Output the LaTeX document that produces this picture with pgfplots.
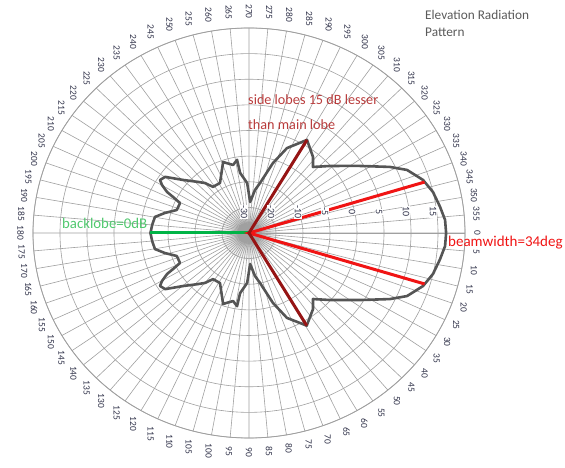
\documentclass[border=0pt]{standalone}
\usepackage{pgfplots}
\pgfplotsset{compat=1.18}
\usepgfplotslibrary{polar}
\usepackage{fontspec}
\setmainfont{Carlito}
\definecolor{gridc}{RGB}{160,160,160}
\definecolor{curvec}{RGB}{85,85,85}
\definecolor{labc}{RGB}{50,52,75}
\definecolor{redl}{RGB}{240,20,20}
\definecolor{darkred}{RGB}{150,20,20}
\definecolor{greenl}{RGB}{0,180,70}
\definecolor{greent}{RGB}{80,200,110}
\definecolor{annot}{RGB}{185,60,60}
\definecolor{titlec}{RGB}{90,90,90}
\begin{document}
\begin{tikzpicture}
\useasboundingbox (0,0) rectangle (565pt,468pt);
% center shading
\shade[inner color=gray!55, outer color=white] (249pt,235pt) ellipse (30pt and 28pt);
\begin{polaraxis}[
  at={(249pt,235pt)}, anchor=center,
  scale only axis, width=432pt, height=410pt, scale mode=stretch to fill,
  xmin=0, xmax=360, ymin=0, ymax=8,
  xtick={0,5,...,355}, ytick={1,...,8},
  xticklabels={}, yticklabels={},
  grid=major,
  major grid style={draw=gridc, line width=0.6pt},
  axis line style={draw=gridc, line width=0.8pt},
  major tick length=0pt,
]
\addplot[draw=curvec, line width=2.6pt, line join=round] coordinates {
(0,7.30) (4,7.28) (8.2,7.15) (13.2,7.0) (17.8,6.77) (22.8,6.35) (26.3,5.82)
(32.5,4.87) (41.1,3.98) (47.4,3.50) (51.4,3.80) (59.4,4.22) (67,3.60) (72,2.87)
(78.2,1.99) (82.5,1.69) (88,1.21) (92,1.95) (98,2.37) (98.8,2.89) (102.5,2.72)
(109.1,2.93) (118.8,2.23) (126.5,2.24) (129.9,2.54) (133.5,2.75) (139.7,3.20)
(144.8,3.80) (147.9,3.89) (149.8,3.73) (152.2,3.43) (153.4,3.15) (155.4,2.81)
(161.4,2.82) (165.9,3.21) (169.8,3.54) (175,3.6) (180,3.65)
(185,3.6) (190.2,3.54) (194.1,3.21) (198.6,2.82) (204.6,2.81) (206.6,3.15)
(207.8,3.43) (210.2,3.73) (212.1,3.89) (215.2,3.80) (220.3,3.20) (226.5,2.75)
(230.1,2.54) (233.5,2.24) (241.2,2.23) (250.9,2.93) (257.5,2.72) (261.2,2.89)
(262,2.37) (268,1.95) (272,1.21) (277.5,1.69) (281.8,1.99) (288,2.87) (293,3.60)
(300.6,4.20) (308.6,3.80) (312.6,3.50) (318.9,3.98) (327.5,4.87) (333.7,5.82)
(337.2,6.35) (342.2,6.77) (346.8,7.0) (351.8,7.15) (356,7.28) (360,7.30)
};
\addplot[draw=greenl, line width=3pt] coordinates {(0,0) (180,3.65)};
\addplot[draw=redl, line width=3pt] coordinates {(17,6.8) (0,0) (343,6.8)};
\addplot[draw=darkred, line width=3pt] coordinates {(59.4,4.22) (0,0) (300.6,4.20)};
\end{polaraxis}
% angle labels
\foreach \a in {0,5,...,355}{
  \pgfmathtruncatemacro\lab{mod(360-\a,360)}
  \pgfmathtruncatemacro\anc{mod(\a+270,360)}
  \pgfmathsetmacro\px{249+225*cos(\a)}
  \pgfmathsetmacro\py{235+214*sin(\a)}
  \node[rotate=-90, anchor=\anc, inner sep=0pt, font=\fontsize{9.5}{10}\selectfont, text=labc]
    at (\px pt, \py pt) {\lab};
}
% radial labels
\foreach \k/\v in {0/-30,1/-20,2/-10,3/-5,4/0,5/5,6/10,7/15}{
  \pgfmathsetmacro\px{244+27*\k}
  \node[rotate=-90, inner sep=0.6pt, fill=white, font=\fontsize{10}{11}\selectfont, text=labc]
    at (\px pt, 256pt) {\v};
}
% annotations
\node[anchor=west, inner sep=0pt, text=titlec, font=\fontsize{13.3}{14}\selectfont] at (425pt,453pt) {Elevation Radiation};
\node[anchor=west, inner sep=0pt, text=titlec, font=\fontsize{13.3}{14}\selectfont] at (425pt,436pt) {Pattern};
\node[anchor=west, inner sep=0pt, text=annot, font=\fontsize{14.2}{15}\selectfont] at (248pt,368pt) {side lobes 15 dB lesser};
\node[anchor=west, inner sep=0pt, text=annot, font=\fontsize{14.2}{15}\selectfont] at (248pt,343pt) {than main lobe};
\node[anchor=west, inner sep=0pt, text=redl, font=\fontsize{15}{16}\selectfont] at (448pt,225pt) {beamwidth=34deg};
\node[anchor=west, inner sep=0pt, text=greent, font=\fontsize{14.8}{16}\selectfont] at (62pt,245pt) {backlobe=0dB};
\end{tikzpicture}
\end{document}
